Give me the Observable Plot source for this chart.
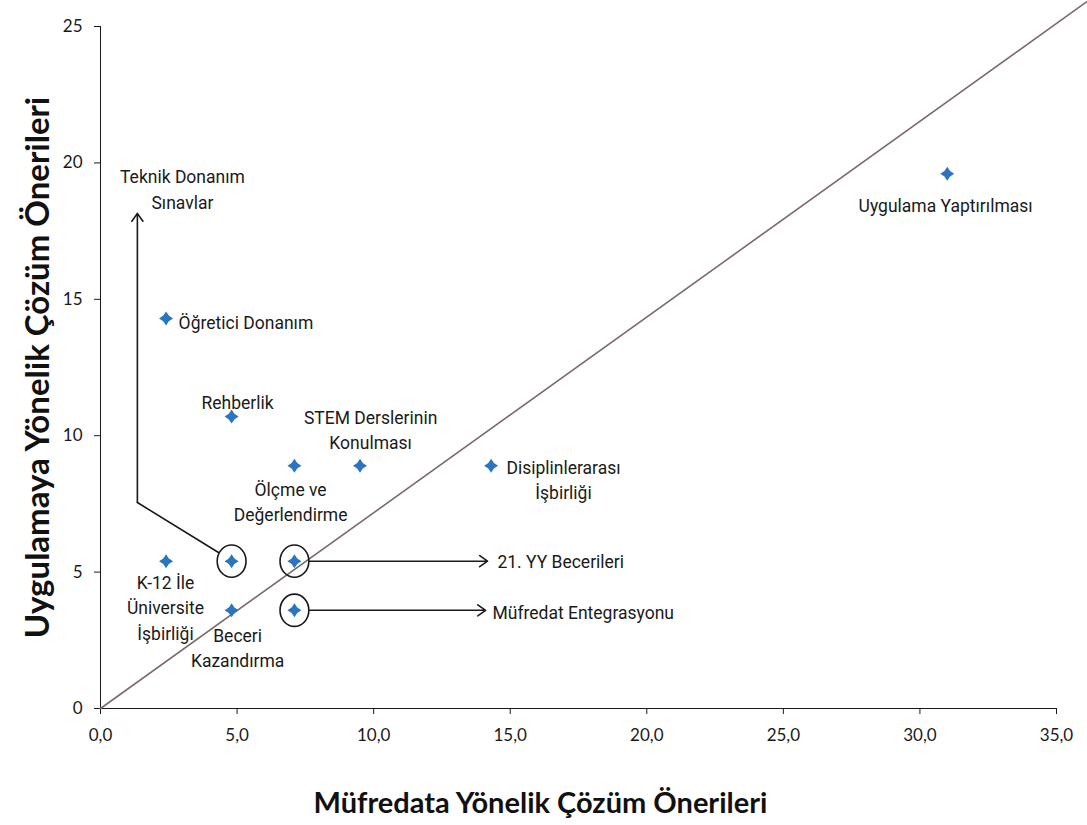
<!DOCTYPE html>
<html>
<head>
<meta charset="utf-8">
<script src="https://cdn.jsdelivr.net/npm/d3@7"></script>
<script src="https://cdn.jsdelivr.net/npm/@observablehq/plot@0.6"></script>
<style>
  html, body { margin: 0; padding: 0; background: #fff; }
  #chart { width: 1087px; height: 825px; }
</style>
</head>
<body>
<div id="chart"></div>
<script>
// ---- data ----
const names = [
  "Uygulama Yaptırılması",
  "Öğretici Donanım",
  "Rehberlik",
  "Ölçme ve Değerlendirme",
  "STEM Derslerinin Konulması",
  "Disiplinlerarası İşbirliği",
  "K-12 İle Üniversite İşbirliği",
  "Teknik Donanım / Sınavlar",
  "21. YY Becerileri",
  "Beceri Kazandırma",
  "Müfredat Entegrasyonu"
];
const curriculumValues = [31.0, 2.4, 4.8, 7.1, 9.5, 14.3, 2.4, 4.8, 7.1, 4.8, 7.1];
const practiceValues   = [19.6, 14.3, 10.7, 8.9, 8.9, 8.9, 5.4, 5.4, 5.4, 3.6, 3.6];
const circledNames = ["Teknik Donanım / Sınavlar", "21. YY Becerileri", "Müfredat Entegrasyonu"];

const xTicks = [0, 5, 10, 15, 20, 25, 30, 35];
const yTicks = [0, 5, 10, 15, 20, 25];
const xTitle = "Müfredata Yönelik Çözüm Önerileri";
const yTitle = "Uygulamaya Yönelik Çözüm Önerileri";

// label annotations (text)
const labelTexts = [
  "Uygulama Yaptırılması",
  "Öğretici Donanım",
  "Rehberlik",
  "Ölçme ve\nDeğerlendirme",
  "STEM Derslerinin\nKonulması",
  "Disiplinlerarası\nİşbirliği",
  "K-12 İle\nÜniversite\nİşbirliği",
  "Teknik Donanım\nSınavlar",
  "21. YY Becerileri",
  "Beceri\nKazandırma",
  "Müfredat Entegrasyonu"
];

// ---- layout (annotation positions, data units) ----
const labelPos = [
  [30.94, 18.51, "middle"],
  [2.86, 14.19, "start"],
  [5.02, 11.29, "middle"],
  [6.96, 7.61, "middle"],
  [9.89, 10.28, "middle"],
  [16.95, 8.43, "middle"],
  [2.38, 3.74, "middle"],
  [3.0, 19.08, "middle"],
  [14.53, 5.43, "start"],
  [5.02, 2.29, "middle"],
  [14.35, 3.59, "start"]
];
const refLine = [[0, 0], [36.1, 25.9]];
const leaderPath = [[4.32, 5.72], [1.35, 7.55]];
const arrows = [
  {x1: 1.35, y1: 7.55, x2: 1.35, y2: 18.15},
  {x1: 7.65, y1: 5.4, x2: 14.17, y2: 5.4},
  {x1: 7.65, y1: 3.6, x2: 14.1, y2: 3.6}
];

// ---- build tables ----
const points = names.map((n, i) => ({name: n, x: curriculumValues[i], y: practiceValues[i]}));
const circled = points.filter(d => circledNames.includes(d.name));
const labels = labelTexts.map((t, i) => ({text: t, x: labelPos[i][0], y: labelPos[i][1], anchor: labelPos[i][2]}));

// custom symbols
const star4 = {
  draw(ctx, size) {
    const r = Math.sqrt(size / Math.PI);
    const a = r * 0.4;
    ctx.moveTo(0, -r);
    ctx.lineTo(a, -a);
    ctx.lineTo(r, 0);
    ctx.lineTo(a, a);
    ctx.lineTo(0, r);
    ctx.lineTo(-a, a);
    ctx.lineTo(-r, 0);
    ctx.lineTo(-a, -a);
    ctx.closePath();
  }
};
const ellipse = {
  draw(ctx, size) {
    const r = Math.sqrt(size / Math.PI);
    const rx = r * 0.93, ry = r * 1.04, k = 0.5523;
    ctx.moveTo(rx, 0);
    ctx.bezierCurveTo(rx, k * ry, k * rx, ry, 0, ry);
    ctx.bezierCurveTo(-k * rx, ry, -rx, k * ry, -rx, 0);
    ctx.bezierCurveTo(-rx, -k * ry, -k * rx, -ry, 0, -ry);
    ctx.bezierCurveTo(k * rx, -ry, rx, -k * ry, rx, 0);
    ctx.closePath();
  }
};

const labelFont = "Roboto, 'Noto Sans', sans-serif";
const textMarks = ["start", "middle"].map(anchor =>
  Plot.text(labels.filter(d => d.anchor === anchor), {
    x: "x", y: "y", text: "text",
    textAnchor: anchor,
    lineAnchor: "middle",
    lineHeight: 1.43,
    fontSize: 17.5,
    fontFamily: labelFont,
    fill: "#1a1a1a"
  })
);

const chart = Plot.plot({
  width: 1087,
  height: 825,
  marginLeft: 100,
  marginRight: 31,
  marginTop: 26,
  marginBottom: 117,
  style: {fontFamily: "Lato, 'Open Sans', sans-serif", fontSize: "17px", color: "#1a1a1a", background: "#fff"},
  x: {
    domain: [0, 35],
    ticks: xTicks,
    tickFormat: d => d.toFixed(1).replace(".", ","),
    tickSize: 6,
    tickPadding: 14,
    label: null,
    line: true
  },
  y: {
    domain: [0, 25],
    ticks: yTicks,
    tickFormat: d => String(d),
    tickSize: 6,
    tickPadding: 12,
    label: null,
    line: true
  },
  marks: [
    Plot.line(refLine, {x: d => d[0], y: d => d[1], stroke: "#7b6b6b", strokeWidth: 1.6}),
    Plot.line(leaderPath, {x: d => d[0], y: d => d[1], stroke: "#1a1a1a", strokeWidth: 1.6}),
    Plot.arrow(arrows, {x1: "x1", y1: "y1", x2: "x2", y2: "y2", stroke: "#1a1a1a", strokeWidth: 1.6, headLength: 9, headAngle: 70}),
    Plot.dot(circled, {x: "x", y: "y", r: 15.5, symbol: ellipse, stroke: "#1a1a1a", strokeWidth: 1.6, fill: "none"}),
    Plot.dot(points, {x: "x", y: "y", r: 7, symbol: star4, fill: "#2b74c0", stroke: "none"}),
    ...textMarks,
    Plot.text([xTitle], {
      text: d => d, frameAnchor: "bottom", dx: -38, dy: 95,
      textAnchor: "middle", lineAnchor: "middle",
      fontSize: 29, fontWeight: "bold", fontFamily: "Lato, 'Open Sans', sans-serif", fill: "#111"
    }),
    Plot.text([yTitle], {
      text: d => d, frameAnchor: "left", dx: -62, rotate: -90,
      textAnchor: "middle", lineAnchor: "middle",
      fontSize: 33, fontWeight: "bold", fontFamily: "Lato, 'Open Sans', sans-serif", fill: "#111"
    })
  ]
});
document.getElementById("chart").appendChild(chart);
</script>
</body>
</html>
